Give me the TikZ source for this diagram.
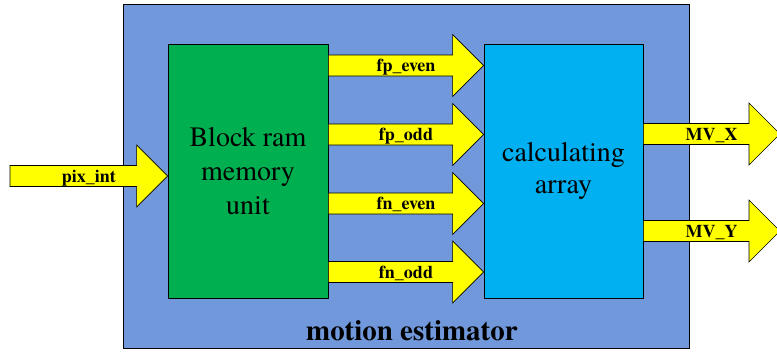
\documentclass[tikz,border=0pt]{standalone}
\usepackage{fontspec}
\setmainfont{texgyretermes}[Extension=.otf, UprightFont=*-regular, BoldFont=*-bold,
  ItalicFont=*-italic, BoldItalicFont=*-bolditalic]
\usepackage{xcolor}
\definecolor{estblue}{RGB}{112,152,218}
\definecolor{ramgreen}{RGB}{0,176,80}
\definecolor{arrcyan}{RGB}{0,176,240}
\definecolor{sigyellow}{RGB}{255,255,0}
\usetikzlibrary{calc, positioning}

% block arrow from (#1) to tip (#2) with label #3
\newcommand{\sigarrow}[3]{%
  \draw[sigshape] ($(#1)+(0,-10.5)$) -- ($(#2)+(-31,-10.5)$) -- ($(#2)+(-31,-31)$)
    -- (#2) -- ($(#2)+(-31,31)$) -- ($(#2)+(-31,10.5)$) -- ($(#1)+(0,10.5)$) -- cycle;
  \node[siglabel] at ($(#1)!0.5!(#2)$) {#3};
}

\begin{document}
\begin{tikzpicture}[x=1pt, y=-1pt,
    block/.style={draw=black, line width=0.8pt, inner sep=0pt, align=center,
      font=\fontsize{28}{34}\selectfont},
    sigshape/.style={fill=sigyellow, draw=black, line width=0.6pt, line join=miter},
    siglabel/.style={font=\fontsize{18}{20}\selectfont\bfseries,
      text height=13pt, text depth=1pt, inner sep=0pt}]
  \useasboundingbox (0,0) rectangle (777,351);

  % --- Motion estimator frame ---
  \node[draw=black, line width=0.8pt, fill=estblue, minimum width=566pt,
    minimum height=344pt, inner sep=0pt] (est) at (406,176) {};
  \node[font=\fontsize{29}{31}\selectfont\bfseries, inner sep=0pt, anchor=base]
    (esttitle) at (412,340) {motion estimator};

  % --- Blocks ---
  \node[block, fill=ramgreen, minimum width=160pt, minimum height=254pt]
    (bram) at (248,171) {Block ram\\memory\\unit};
  \node[block, fill=arrcyan, minimum width=159pt, minimum height=254pt,
    font=\fontsize{28}{32}\selectfont]
    (array) at (563.5,171) {calculating\\array};

  % --- Signal rows ---
  \coordinate (pixin) at (10,176);
  \coordinate (fpe) at (0,65.5);
  \coordinate (fpo) at (0,134.5);
  \coordinate (fne) at (0,203.5);
  \coordinate (fno) at (0,272);
  \coordinate (mvx) at (780,134);
  \coordinate (mvy) at (780,231);

  % --- Arrows ---
  \sigarrow{pixin}{bram.west |- pixin}{pix\_int}
  \sigarrow{bram.east |- fpe}{array.west |- fpe}{fp\_even}
  \sigarrow{bram.east |- fpo}{array.west |- fpo}{fp\_odd}
  \sigarrow{bram.east |- fne}{array.west |- fne}{fn\_even}
  \sigarrow{bram.east |- fno}{array.west |- fno}{fn\_odd}
  \sigarrow{array.east |- mvx}{mvx}{MV\_X}
  \sigarrow{array.east |- mvy}{mvy}{MV\_Y}
\end{tikzpicture}
\end{document}
